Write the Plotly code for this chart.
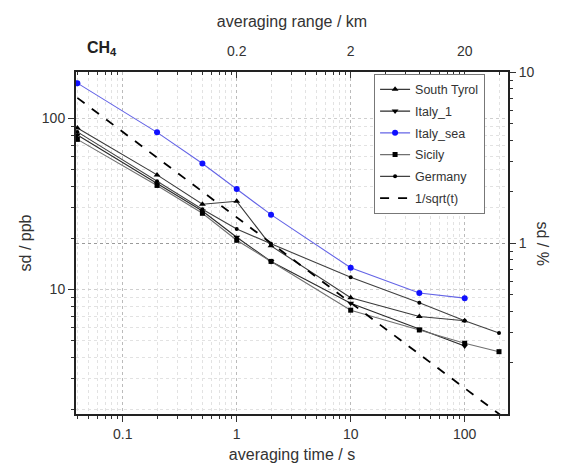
import plotly.graph_objects as go

# averaging times (s) of the data points
t_short = [0.04, 0.2, 0.5, 1, 2, 10, 40, 100]
t_long = [0.04, 0.2, 0.5, 1, 2, 10, 40, 100, 200]

south_tyrol = [88, 46.8, 31.5, 32.8, 18.0, 8.95, 6.96, 6.57]
italy_1 = [80, 41.5, 28.8, 20.2, 14.6, 8.3, 5.85, 4.68]
italy_sea = [161, 83, 54.6, 38.7, 27.4, 13.4, 9.55, 8.9]
sicily = [75.5, 40.6, 27.9, 19.4, 14.6, 7.57, 5.8, 4.85, 4.33]
germany = [83.5, 43, 29.5, 22.6, 18.5, 11.8, 8.37, 6.57, 5.56]

# 1/sqrt(t) reference line, end points
sqrt_t = [0.04, 240]
sqrt_y = [132, 1.71]

x_ticks = [0.1, 1, 10, 100]
x_ticktext = ["0.1", "1", "10", "100"]
km_ticks = [1, 10, 100]
km_ticktext = ["0.2", "2", "20"]
y_ticks = [10, 100]
pct_ticks = [0.1, 1, 10]

x_minor = [m * 10 ** e for e in range(-2, 3) for m in range(2, 10)]
y_minor = [m * 10 ** e for e in range(0, 3) for m in range(2, 10)]
pct_minor = [m * 10 ** e for e in range(-1, 1) for m in range(2, 10)]

FONT = "Liberation Sans, Arial, sans-serif"
TXT = "#333333"

fig = go.Figure()

def add(name, x, y, symbol, lc, mc, size=6):
    fig.add_trace(go.Scatter(x=x, y=y, name=name, legendgroup=name,
                             mode="lines+markers",
                             line=dict(color=lc, width=1.1),
                             marker=dict(symbol=symbol, color=mc, size=size)))

add("South Tyrol", t_short, south_tyrol, "triangle-up", "#3a3a3a", "black")
add("Italy_1", t_short, italy_1, "triangle-down", "#2a2a2a", "black")
add("Italy_sea", t_short, italy_sea, "circle", "#6464e6", "#1010ff", 6)
add("Sicily", t_long, sicily, "square", "#707070", "black", 5)
add("Germany", t_long, germany, "circle", "#404040", "black", 4)
fig.add_trace(go.Scatter(x=sqrt_t, y=sqrt_y, name="1/sqrt(t)", legendgroup="sqrt",
                         mode="lines",
                         line=dict(color="black", width=1.8, dash="dash")))

xr = [-1.41, 2.38]
yr = [0.272, 2.272]
grid_minor = dict(ticks="outside", ticklen=3, tickcolor="#333", showgrid=True,
                  griddash="dot", gridcolor="#e2e2e2", gridwidth=1)

fig.update_layout(
    width=562, height=465,
    margin=dict(l=68, r=62, t=62, b=55),
    paper_bgcolor="white", plot_bgcolor="white",
    font=dict(family=FONT, color=TXT, size=14),
    showlegend=True,
    legend=dict(x=0.69, y=0.995, xanchor="left", yanchor="top",
                bgcolor="white", bordercolor="#777", borderwidth=1,
                tracegroupgap=2.5,
                font=dict(size=12.5, color=TXT)),
    xaxis=dict(type="log", range=xr, tickvals=x_ticks, ticktext=x_ticktext,
               ticks="outside", ticklen=6, tickcolor="#333",
               showline=True, linecolor="#222", linewidth=2,
               showgrid=True, griddash="dot", gridcolor="#bbbbbb",
               minor=dict(tickvals=x_minor, **grid_minor),
               title=dict(text="averaging time / s", font=dict(size=16), standoff=8),
               zeroline=False),
    xaxis2=dict(type="log", range=xr, overlaying="x", side="top", anchor="y",
                tickvals=km_ticks, ticktext=km_ticktext,
                ticks="inside", ticklen=6, tickcolor="#333", ticklabelstandoff=8,
                showline=True, linecolor="#222", linewidth=2, showgrid=False,
                minor=dict(tickvals=x_minor, ticks="inside", ticklen=3, tickcolor="#333"),
                title=dict(text="averaging range / km", font=dict(size=16), standoff=12)),
    yaxis=dict(type="log", range=yr, tickvals=y_ticks,
               ticks="outside", ticklen=6, tickcolor="#333",
               showline=True, linecolor="#222", linewidth=2,
               showgrid=True, griddash="dot", gridcolor="#cfcfcf",
               minor=dict(tickvals=y_minor, **grid_minor),
               title=dict(text="sd / ppb", font=dict(size=16), standoff=6),
               zeroline=False),
    yaxis2=dict(type="log", range=[yr[0] - 1.27, yr[1] - 1.27], overlaying="y",
                side="right", anchor="x", tickvals=pct_ticks,
                ticks="outside", ticklen=6, tickcolor="#333",
                showline=True, linecolor="#222", linewidth=2,
                showgrid=True, griddash="dot", gridcolor="#9a9a9a",
                minor=dict(tickvals=pct_minor, ticks="outside", ticklen=3,
                           tickcolor="#333", showgrid=False)),
)

# empty trace so that the secondary axes get drawn
fig.add_trace(go.Scatter(x=[], y=[], xaxis="x2", yaxis="y2", showlegend=False, hoverinfo="skip"))

fig.add_annotation(text="<b>CH<sub>4</sub></b>", xref="paper", yref="paper",
                   x=0.02, y=1.0, yshift=12, xanchor="left", yanchor="bottom",
                   showarrow=False, font=dict(size=16, color="#222"))
fig.add_annotation(text="sd / %", xref="paper", yref="paper", x=1.0, y=0.5,
                   xshift=45, textangle=90, showarrow=False,
                   font=dict(size=16, color=TXT))

fig.write_html("out.html")
